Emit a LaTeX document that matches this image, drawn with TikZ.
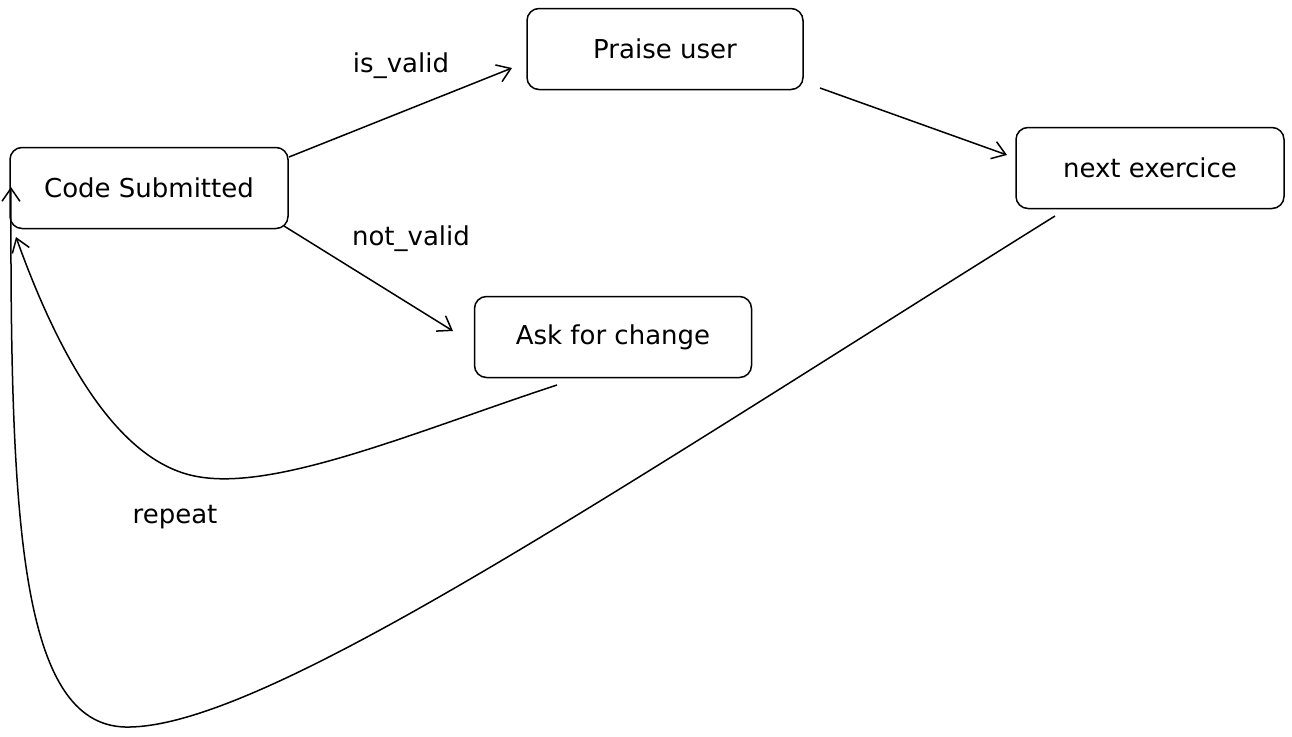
\documentclass[tikz,border=0pt]{standalone}
\usepackage{fontspec}
\setmainfont{DejaVu Sans}
\usetikzlibrary{arrows.meta}
\begin{document}
\begin{tikzpicture}[x=1pt,y=-1pt,
  state/.style={draw, line width=1.5pt, rounded corners=12pt, minimum width=#1, minimum height=81pt, inner sep=0pt, font=\fontsize{26}{30}\selectfont},
  state/.default=277pt,
  lbl/.style={font=\fontsize{26}{30}\selectfont, inner sep=0pt},
  conn/.style={line width=1.5pt, -{Straight Barb[length=13pt,width=18pt,line width=1.5pt]}},
]
\useasboundingbox (0,0) rectangle (1292,736);
\node[state=278pt] (code) at (149,188) {Code Submitted};
\node[state=276pt] (praise) at (665,49) {Praise user};
\node[state=268pt] (next) at (1150,168) {next exercice};
\node[state=277pt] (ask) at (613,337) {Ask for change};
\coordinate (c1) at (289,157);
\coordinate (c1e) at (512,68);
\coordinate (c2) at (284,226);
\coordinate (c2e) at (453,331);
\coordinate (p1) at (820,88);
\coordinate (p1e) at (1007,155);
\coordinate (a1) at (557,385);
\coordinate (a1e) at (16,237);
\coordinate (n1) at (1055,216);
\coordinate (n1e) at (11,187);
\draw[conn] (c1) -- (c1e);
\draw[conn] (c2) -- (c2e);
\draw[conn] (p1) -- (p1e);
\draw[conn] (a1) .. controls (420,430) and (280,490) .. (200,477) .. controls (120,465) and (60,360) .. (a1e);
\draw[conn] (n1) .. controls (600,500) and (260,730) .. (125,727) .. controls (20,724) and (10,520) .. (n1e);
\node[lbl] (isv) at (401,66) {is\_valid};
\node[lbl] (notv) at (411,239) {not\_valid};
\node[lbl] (rep) at (175,517) {repeat};
\end{tikzpicture}
\end{document}
